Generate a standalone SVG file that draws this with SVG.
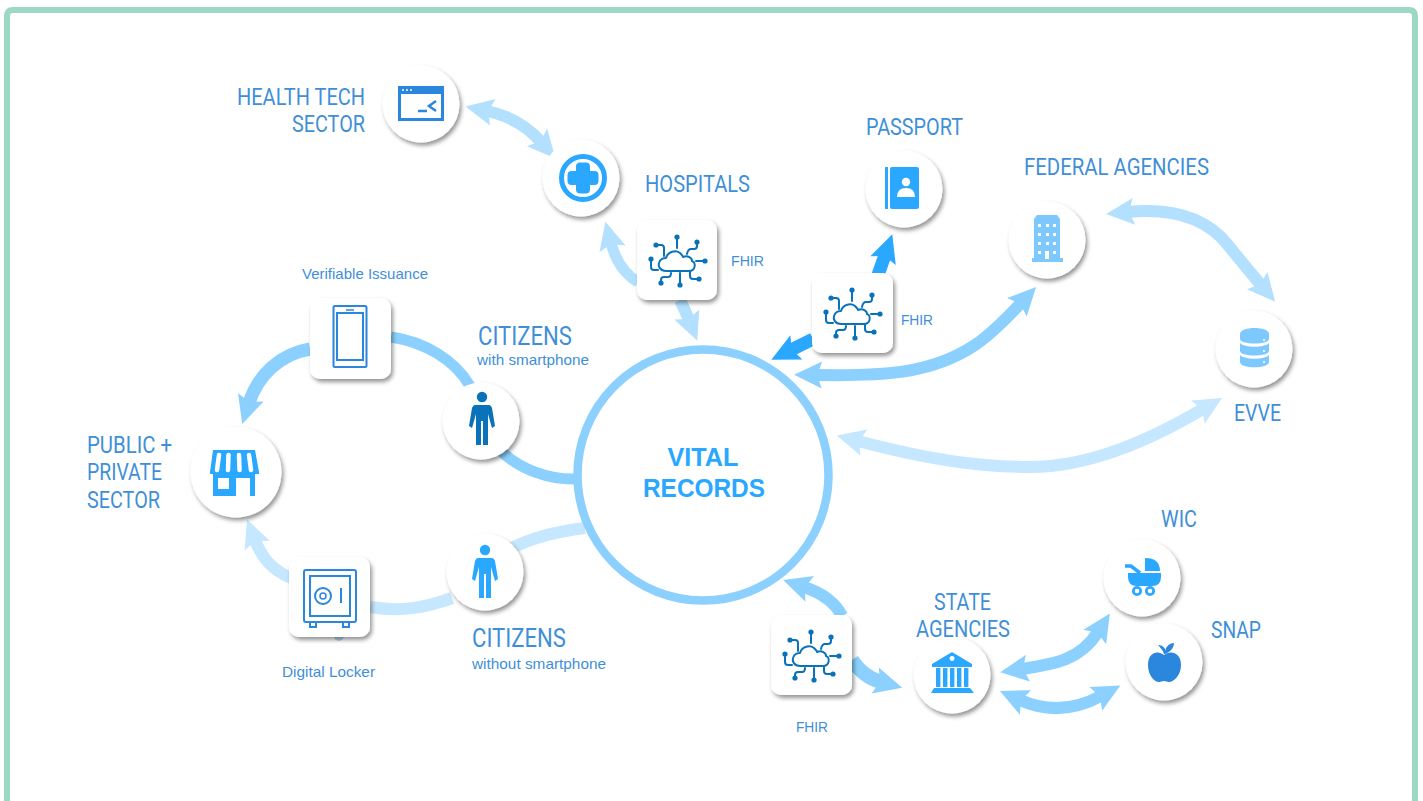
<svg xmlns="http://www.w3.org/2000/svg" xmlns:xlink="http://www.w3.org/1999/xlink" width="1423" height="801" viewBox="0 0 1423 801">
<style>
.t{font-family:"Liberation Sans Narrow","Roboto","Liberation Sans",sans-serif;fill:#3f8fd8;font-size:23px}
.s{font-family:"Liberation Sans",Arial,sans-serif;fill:#3f8fd8;font-size:14.5px}
.c{font-family:"Liberation Sans Narrow","Roboto","Liberation Sans",sans-serif;fill:#3f8fd8;font-size:25px}
.v{font-family:"Liberation Sans",Arial,sans-serif;fill:#2aa8ff;font-size:26px;font-weight:700}
.card{fill:#fff;filter:url(#sh)}
.a{fill:none}
.m{stroke:#8bd0ff}.l{stroke:#b3e0ff}.x{stroke:#c5e7ff}.d{stroke:#2aa8ff}
.ic{fill:none;stroke:#2b86dd;stroke-width:2}
.cl{fill:none;stroke:#0a72b8;stroke-width:2;stroke-linecap:round;stroke-linejoin:round}
.dot{fill:#0a72b8}
</style>
<defs>
<filter id="sh" x="-20%" y="-20%" width="150%" height="150%"><feDropShadow dx="2" dy="3" stdDeviation="2" flood-color="#000" flood-opacity=".42"/></filter>
<marker id="hm" markerUnits="userSpaceOnUse" viewBox="-8 -15 36 30" refX="0" refY="0" markerWidth="36" markerHeight="30" orient="auto-start-reverse"><path d="M-6,-13.500 L22,0 L-6,13.500 L-1,0Z" fill="#8bd0ff"/></marker>
<marker id="hl" markerUnits="userSpaceOnUse" viewBox="-8 -15 36 30" refX="0" refY="0" markerWidth="36" markerHeight="30" orient="auto-start-reverse"><path d="M-6,-13.500 L22,0 L-6,13.500 L-1,0Z" fill="#b3e0ff"/></marker>
<marker id="hx" markerUnits="userSpaceOnUse" viewBox="-8 -15 36 30" refX="0" refY="0" markerWidth="36" markerHeight="30" orient="auto-start-reverse"><path d="M-6,-13.500 L22,0 L-6,13.500 L-1,0Z" fill="#c5e7ff"/></marker>
<marker id="hd" markerUnits="userSpaceOnUse" viewBox="-8 -15 36 30" refX="0" refY="0" markerWidth="36" markerHeight="30" orient="auto-start-reverse"><path d="M-6,-13.500 L22,0 L-6,13.500 L-1,0Z" fill="#2aa8ff"/></marker>
<g id="cloud">
<path class="cl" d="M-11,10 C-17,10 -19,5 -18,2 C-17,-2 -13,-3 -11,-3 C-9,-10 -1,-11 3,-8 C5,-6 6,-5 6,-4 C11,-6 15,-3 15,0 C19,1 19,10 12,10 Z"/>
<path class="cl" d="M0,-24 V-13 M20,-19 V-15 Q20,-12 17,-12 H14 Q11,-12 10,-7 M28,0 H19 M22,18 H16 Q13,18 13,15 V11 M3,24 V12 M-16,22 V19 Q-16,16 -13,16 H-9 Q-6,16 -6,12 M-26,-2 V6 Q-26,9 -23,9 H-19 M-21,-16 H-16 Q-13,-16 -13,-13 V-5"/>
<circle class="dot" cx="0" cy="-24" r="2.6"/><circle class="dot" cx="20" cy="-19" r="2.6"/><circle class="dot" cx="28" cy="0" r="2.6"/><circle class="dot" cx="22" cy="18" r="2.6"/><circle class="dot" cx="3" cy="24" r="2.6"/><circle class="dot" cx="-16" cy="22" r="2.6"/><circle class="dot" cx="-26" cy="-2" r="2.6"/><circle class="dot" cx="-21" cy="-16" r="2.6"/>
</g>
<g id="person">
<circle cx="0" cy="0" r="5.2"/>
<path d="M-7,8 Q-9,8 -10,11 L-13,29 L-10,31 L-6,17 V48 H-1 V24 H1 V48 H6 V17 L10,31 L13,29 L10,11 Q9,8 7,8 Z"/>
</g>
</defs>

<rect width="1423" height="801" fill="#fff"/>
<path id="border" d="M7,801 V16 Q7,10 13,10 H1409 Q1415,10 1415,16 V801" fill="none" stroke="#9fd8c2" stroke-width="6"/>

<g id="connectors" class="a" fill="none">
<path class="l" stroke-width="12" marker-start="url(#hl)" marker-end="url(#hl)" d="M487,111 Q520,118 541,142"/>
<path class="l" stroke-width="11" marker-end="url(#hl)" d="M638,282 Q618,270 611,243"/>
<path class="l" stroke-width="12" marker-end="url(#hl)" d="M680,300 Q685,310 689,320"/>
<path class="d" stroke-width="13" marker-end="url(#hd)" d="M878,275 L885,255"/>
<path class="d" stroke-width="13" marker-end="url(#hd)" d="M813,339 L791,350"/>
<path class="m" stroke-width="12" marker-start="url(#hm)" marker-end="url(#hm)" d="M816,375 C880,376 930,375 975,345 C990,335 1005,320 1021,303"/>
<path class="l" stroke-width="12" marker-start="url(#hl)" marker-end="url(#hl)" d="M1128,212 C1170,208 1205,216 1228,245 C1240,260 1250,272 1261,285"/>
<path class="x" stroke-width="12" marker-start="url(#hx)" marker-end="url(#hx)" d="M858,441 C930,460 980,467 1030,467 C1090,467 1150,440 1203,409"/>
<path class="m" stroke-width="13" marker-end="url(#hm)" d="M310,349 C280,354 258,375 249,403"/>
<path class="m" stroke-width="11" d="M391,337 C425,342 455,360 470,386"/>
<path class="m" stroke-width="11" d="M577,479 C550,480 520,470 500,450"/>
<path class="x" stroke-width="12" d="M585,528 C560,531 530,538 508,550"/>
<path class="x" stroke-width="12" d="M452,598 C425,608 400,612 370,607"/>
<path class="x" stroke-width="12" marker-end="url(#hx)" d="M291,578 C272,570 262,558 255,540"/>
<path class="m" stroke-width="12" marker-end="url(#hm)" d="M842,616 C835,602 822,593 804,587"/>
<path class="m" stroke-width="14" marker-end="url(#hm)" d="M852,660 C860,672 870,679 881,682"/>
<path class="m" stroke-width="12" marker-start="url(#hm)" marker-end="url(#hm)" d="M1022,669 C1055,664 1080,660 1098,632"/>
<path class="m" stroke-width="12" marker-start="url(#hm)" marker-end="url(#hm)" d="M1020,700 Q1060,718 1101,696"/>
</g>

<g id="vital-records">
<circle cx="703" cy="475" r="125.5" fill="#fff" stroke="#8bd0ff" stroke-width="8.5"/>
<text class="v" x="703" y="466" text-anchor="middle" textLength="71" lengthAdjust="spacingAndGlyphs">VITAL</text>
<text class="v" x="704" y="497" text-anchor="middle" textLength="122" lengthAdjust="spacingAndGlyphs">RECORDS</text>
</g>

<g id="health-tech">
<circle class="card" cx="421" cy="104" r="38.5"/>
<rect class="ic" x="399.500" y="87.500" width="43" height="32" style="stroke-width:3"/>
<rect x="398" y="86" width="46" height="8" fill="#2b86dd"/>
<circle cx="403" cy="90" r="1" fill="#fff"/><circle cx="407" cy="90" r="1" fill="#fff"/><circle cx="411" cy="90" r="1" fill="#fff"/>
<path d="M418,111 H427 M436,101 L429,106 L436,111" fill="none" stroke="#2b86dd" stroke-width="2.500"/>
<text class="t" x="365" y="105" text-anchor="end" textLength="128" lengthAdjust="spacingAndGlyphs">HEALTH TECH</text>
<text class="t" x="365" y="132" text-anchor="end" textLength="73" lengthAdjust="spacingAndGlyphs">SECTOR</text>
</g>

<g id="hospitals">
<circle class="card" cx="581" cy="178" r="38.5"/>
<circle cx="583" cy="178" r="21.500" fill="none" stroke="#2aa8ff" stroke-width="5"/>
<rect x="567.500" y="171" width="31" height="14" rx="4" fill="#2aa8ff"/>
<rect x="576" y="162.500" width="14" height="31" rx="4" fill="#2aa8ff"/>
<text class="t" x="645" y="192" textLength="105" lengthAdjust="spacingAndGlyphs">HOSPITALS</text>
</g>

<g id="fhir-hospitals">
<rect class="card" x="637" y="220" width="80" height="80" rx="10"/>
<use href="#cloud" x="677" y="261"/>
<text class="s" x="731" y="266" textLength="33" lengthAdjust="spacingAndGlyphs">FHIR</text>
</g>

<g id="passport">
<circle class="card" cx="904" cy="189" r="38.5"/>
<rect x="885" y="167" width="3" height="42" fill="#2aa8ff"/>
<rect x="890" y="167" width="29" height="42" rx="2" fill="#2aa8ff"/>
<circle cx="906" cy="182" r="4.200" fill="#fff"/>
<path d="M897,197 Q897,188 906,188 Q915,188 915,197 Z" fill="#fff"/>
<text class="t" x="866" y="135" textLength="97" lengthAdjust="spacingAndGlyphs">PASSPORT</text>
</g>

<g id="fhir-federal">
<rect class="card" x="812" y="273" width="81" height="80" rx="10"/>
<use href="#cloud" x="852" y="314"/>
<text class="s" x="901" y="325" textLength="32" lengthAdjust="spacingAndGlyphs">FHIR</text>
</g>

<g id="federal-agencies">
<circle class="card" cx="1047" cy="240" r="38.5"/>
<path d="M1037,215 H1057 L1060,219 V258 H1063 V262 H1032 V258 H1034 V219 Z" fill="#7cc8ff"/>
<g fill="#fff"><rect x="1038" y="224" width="3" height="3"/><rect x="1046" y="224" width="3" height="3"/><rect x="1053" y="224" width="3" height="3"/><rect x="1038" y="233" width="3" height="3"/><rect x="1046" y="233" width="3" height="3"/><rect x="1053" y="233" width="3" height="3"/><rect x="1038" y="242" width="3" height="3"/><rect x="1046" y="242" width="3" height="3"/><rect x="1053" y="242" width="3" height="3"/><rect x="1038" y="251" width="3" height="3"/><rect x="1045" y="251" width="4" height="8"/><rect x="1053" y="251" width="3" height="3"/></g>
<text class="t" x="1024" y="175" textLength="185" lengthAdjust="spacingAndGlyphs">FEDERAL AGENCIES</text>
</g>

<g id="evve">
<circle class="card" cx="1254" cy="349" r="38.5"/>
<g fill="#7cc8ff">
<path d="M1240,334 C1240,326 1269,326 1269,334 V339 C1269,345 1240,345 1240,339 Z"/>
<path d="M1240,343 C1245,348 1264,348 1269,343 V351 C1269,357 1240,357 1240,351 Z"/>
<path d="M1240,355 C1245,360 1264,360 1269,355 V362 C1269,369 1240,369 1240,362 Z"/>
</g>
<circle cx="1264" cy="340" r="1" fill="#fff"/><circle cx="1264" cy="351" r="1" fill="#fff"/><circle cx="1264" cy="362" r="1" fill="#fff"/>
<text class="t" x="1234" y="421" textLength="47" lengthAdjust="spacingAndGlyphs">EVVE</text>
</g>

<g id="phone">
<rect class="card" x="310" y="298" width="81" height="81" rx="10"/>
<rect class="ic" x="333.500" y="306" width="33" height="61" rx="1.500"/>
<rect class="ic" x="337" y="313" width="26" height="47"/>
<path d="M346,310 H354" stroke="#2b86dd" stroke-width="1.500"/>
<text class="s" x="302" y="279" textLength="126" lengthAdjust="spacingAndGlyphs">Verifiable Issuance</text>
</g>

<g id="citizens-smartphone">
<circle class="card" cx="481" cy="421" r="38.5"/>
<use href="#person" x="482" y="397" fill="#0a72b8"/>
<text class="c" x="478" y="345" textLength="94" lengthAdjust="spacingAndGlyphs">CITIZENS</text>
<text class="s" x="477" y="365" textLength="112" lengthAdjust="spacingAndGlyphs">with smartphone</text>
</g>

<g id="public-private">
<circle class="card" cx="236" cy="472" r="45.500"/>
<path d="M213,450 H255 L259,472 V474 H210 V472 Z" fill="#2aa8ff"/>
<path d="M219,455 L217,470 M228.500,455 L228,470 M239,455 L239.500,470 M249,455 L251,470" stroke="#fff" stroke-width="4.500" stroke-linecap="round"/>
<path fill-rule="evenodd" d="M213,473 H255 V496 H250 V478 H236 V496 H213 Z M218,478 V489 H229 V478 Z" fill="#2aa8ff"/>
<text class="t" x="87" y="453" textLength="85" lengthAdjust="spacingAndGlyphs">PUBLIC +</text>
<text class="t" x="87" y="480" textLength="75" lengthAdjust="spacingAndGlyphs">PRIVATE</text>
<text class="t" x="87" y="508" textLength="73" lengthAdjust="spacingAndGlyphs">SECTOR</text>
</g>

<g id="digital-locker">
<circle cx="339" cy="636" r="5" fill="#b3d9f5"/>
<rect class="card" x="289" y="557" width="81" height="80" rx="10"/>
<rect class="ic" x="304" y="570" width="52" height="52" rx="2"/>
<rect class="ic" x="310" y="576" width="40" height="40"/>
<circle class="ic" cx="323" cy="596" r="8"/>
<circle class="ic" cx="323" cy="596" r="3" style="stroke-width:1.500"/>
<path d="M341,588 V603" stroke="#2b86dd" stroke-width="2"/>
<rect class="ic" x="310" y="622" width="6" height="5"/><rect class="ic" x="343" y="622" width="6" height="5"/>
<text class="s" x="282" y="677" textLength="93" lengthAdjust="spacingAndGlyphs">Digital Locker</text>
</g>

<g id="citizens-no-smartphone">
<circle class="card" cx="485" cy="572" r="38.5"/>
<use href="#person" x="485" y="550" fill="#2aa8ff"/>
<text class="c" x="472" y="647" textLength="94" lengthAdjust="spacingAndGlyphs">CITIZENS</text>
<text class="s" x="472" y="669" textLength="134" lengthAdjust="spacingAndGlyphs">without smartphone</text>
</g>

<g id="fhir-state">
<rect class="card" x="771" y="615" width="81" height="80" rx="10"/>
<use href="#cloud" x="811" y="656"/>
<text class="s" x="796" y="732" textLength="32" lengthAdjust="spacingAndGlyphs">FHIR</text>
</g>

<g id="state-agencies">
<circle class="card" cx="952" cy="675" r="38.5"/>
<path fill-rule="evenodd" d="M952,652 L972,664 V667 H932 V664 Z M952,656 a2.500,2.500 0 1 0 .1,0 Z" fill="#2aa8ff"/>
<path d="M936,668 H940.400 V687 H936 Z M943,668 H947.400 V687 H943 Z M950,668 H954.400 V687 H950 Z M957,668 H961.400 V687 H957 Z M964,668 H968.400 V687 H964 Z M934,688 H970 L974,693 H931 Z" fill="#2aa8ff"/>
<text class="t" x="934" y="610" textLength="57" lengthAdjust="spacingAndGlyphs">STATE</text>
<text class="t" x="916" y="637" textLength="94" lengthAdjust="spacingAndGlyphs">AGENCIES</text>
</g>

<g id="wic">
<circle class="card" cx="1142" cy="578" r="38.5"/>
<path d="M1145,558 Q1160,558 1160,571 H1145 Z M1128,573 H1161 V577 Q1161,586 1152,586 H1137 Q1128,586 1128,577 Z" fill="#2aa8ff"/>
<path d="M1125,566 H1131 L1140,573" fill="none" stroke="#2aa8ff" stroke-width="3.500"/>
<circle cx="1137" cy="591" r="3.700" fill="#fff" stroke="#2aa8ff" stroke-width="2.800"/>
<circle cx="1150" cy="591" r="3.700" fill="#fff" stroke="#2aa8ff" stroke-width="2.800"/>
<text class="t" x="1161" y="527" textLength="36" lengthAdjust="spacingAndGlyphs">WIC</text>
</g>

<g id="snap">
<circle class="card" cx="1164" cy="662" r="38.5"/>
<path d="M1164,655 C1170,650 1181,652 1181,665 C1181,675 1174,682 1169,682 C1167,682 1166,681 1164,681 C1162,681 1161,682 1159,682 C1154,682 1148,675 1148,665 C1148,652 1158,650 1164,655 Z" fill="#2b86dd"/>
<path d="M1164,654 C1163,650 1161,649 1158,645 C1162,645 1166,648 1165,651 C1166,647 1169,643 1174,643 C1174,648 1170,652 1165,654 Z" fill="#2b86dd"/>
<text class="t" x="1211" y="638" textLength="50" lengthAdjust="spacingAndGlyphs">SNAP</text>
</g>
</svg>
